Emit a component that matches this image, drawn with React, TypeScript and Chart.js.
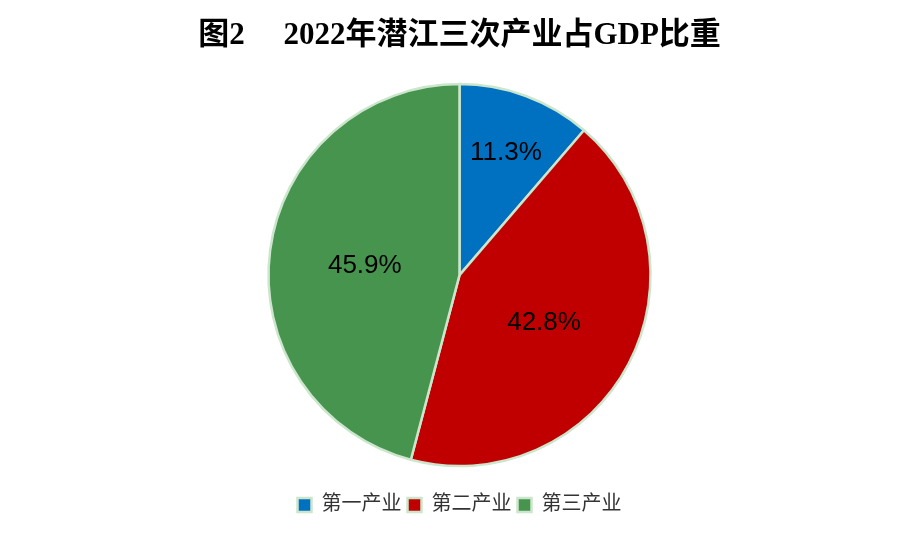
import React, { useEffect, useRef } from "react";
import { Chart, registerables } from "chart.js";

Chart.register(...registerables);

const titleText = "图2　 2022年潜江三次产业占GDP比重";
const categories = ["第一产业", "第二产业", "第三产业"];
const shares = [11.3, 42.8, 45.9];
const valueLabels = ["11.3%", "42.8%", "45.9%"];
const sliceColors = ["#0070C0", "#C00000", "#46944E"];
const labelRadiusFactors = [0.7, 0.5, 0.5];

const sliceLabelPlugin = {
  id: "sliceLabels",
  afterDatasetsDraw(chart: any) {
    const meta = chart.getDatasetMeta(0);
    const ctx = chart.ctx;
    ctx.save();
    ctx.font = '26px "Liberation Sans", Arial, sans-serif';
    ctx.fillStyle = "#000000";
    ctx.textAlign = "center";
    ctx.textBaseline = "middle";
    meta.data.forEach((arc: any, i: number) => {
      const p = arc.getProps(["x", "y", "startAngle", "endAngle", "outerRadius"], true);
      const mid = (p.startAngle + p.endAngle) / 2;
      const r = p.outerRadius * labelRadiusFactors[i];
      ctx.fillText(valueLabels[i], p.x + Math.cos(mid) * r, p.y + Math.sin(mid) * r + 3);
    });
    ctx.restore();
  },
};

export default function App() {
  const canvasRef = useRef<HTMLCanvasElement | null>(null);

  useEffect(() => {
    if (!canvasRef.current) return;
    const chart = new Chart(canvasRef.current, {
      type: "pie",
      data: {
        labels: categories,
        datasets: [
          {
            data: shares,
            backgroundColor: sliceColors,
            borderColor: "#CBE6CC",
            borderWidth: 2.5,
            radius: 191,
          },
        ],
      },
      options: {
        responsive: true,
        maintainAspectRatio: false,
        animation: false,
        layout: { padding: { top: 0, bottom: 16, left: 0, right: 0 } },
        plugins: {
          title: {
            display: true,
            text: titleText,
            color: "#000000",
            font: { size: 31, weight: "bold", family: '"Liberation Serif", "Noto Sans CJK SC", serif' },
            padding: { top: 17, bottom: 7 },
          },
          legend: {
            display: true,
            position: "bottom",
            labels: {
              color: "#333333",
              font: { size: 20, family: '"Liberation Serif", "Noto Sans CJK SC", serif' },
              boxWidth: 14,
              boxHeight: 14,
              padding: 6,
            },
          },
          tooltip: { enabled: false },
        },
      },
      plugins: [sliceLabelPlugin],
    });
    return () => chart.destroy();
  }, []);

  return (
    <div style={{ position: "absolute", left: 0, top: 0, width: 919, height: 541, background: "#ffffff" }}>
      <canvas ref={canvasRef} />
    </div>
  );
}
